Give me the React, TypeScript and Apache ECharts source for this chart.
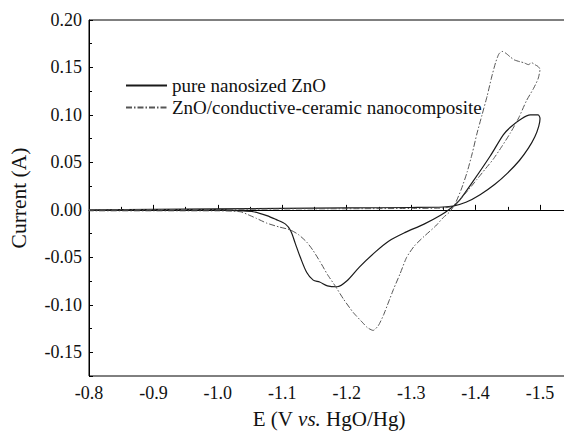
import React, { useEffect, useRef } from "react";
import * as echarts from "echarts";

// Pure nanosized ZnO (scan order)
const pureE = [
  -0.8, -0.9, -1.0, -1.1, -1.2, -1.3, -1.35, -1.365,
  -1.385, -1.407, -1.43, -1.45, -1.468, -1.482, -1.492, -1.498, -1.5, -1.497,
  -1.485, -1.469, -1.454, -1.443, -1.423, -1.396, -1.375, -1.362, -1.345, -1.32, -1.29,
  -1.265, -1.245, -1.22, -1.2, -1.185, -1.17, -1.158, -1.148, -1.138, -1.128, -1.12,
  -1.113, -1.105, -1.09, -1.076, -1.055, -1.035, -1.0, -0.9, -0.8,
];
const pureI = [
  0.0, 0.0005, 0.001, 0.0015, 0.002, 0.0025, 0.003, 0.004,
  0.008, 0.016, 0.027, 0.039, 0.052, 0.065, 0.077, 0.088, 0.096, 0.1,
  0.1, 0.095, 0.087, 0.079, 0.057, 0.03, 0.01, 0.002, -0.006, -0.015, -0.024,
  -0.033, -0.044, -0.06, -0.075, -0.081, -0.08, -0.076, -0.074, -0.066, -0.05, -0.035,
  -0.022, -0.015, -0.01, -0.006, -0.002, -0.001, 0.0, 0.0, 0.0,
];

// ZnO/conductive-ceramic nanocomposite (scan order)
const compE = [
  -0.8, -0.9, -1.0, -1.1, -1.2, -1.3, -1.35, -1.365,
  -1.376, -1.39, -1.402, -1.415, -1.427, -1.44, -1.454, -1.467, -1.479, -1.49, -1.497, -1.5,
  -1.497, -1.492, -1.487, -1.482, -1.475, -1.469, -1.46, -1.454, -1.447, -1.441, -1.436,
  -1.431, -1.425, -1.418, -1.41, -1.402, -1.395, -1.387, -1.378, -1.368, -1.36, -1.35,
  -1.338, -1.32, -1.305, -1.293, -1.283, -1.273, -1.265, -1.257, -1.249, -1.241, -1.232,
  -1.225, -1.21, -1.195, -1.182, -1.17, -1.159, -1.148, -1.138, -1.125, -1.112, -1.095,
  -1.076, -1.06, -1.05, -1.035, -1.0, -0.9, -0.8,
];
const compI = [
  0.0, 0.0003, 0.0005, 0.001, 0.0012, 0.0015, 0.002, 0.004,
  0.011, 0.022, 0.032, 0.043, 0.053, 0.066, 0.081, 0.097, 0.115, 0.128, 0.138, 0.148,
  0.151, 0.153, 0.155, 0.153, 0.155, 0.156, 0.158, 0.161, 0.165, 0.167, 0.164,
  0.155, 0.14, 0.12, 0.1, 0.08, 0.06, 0.04, 0.022, 0.006, -0.002, -0.008,
  -0.017, -0.028, -0.038, -0.05, -0.067, -0.083, -0.097, -0.111, -0.122, -0.127, -0.124,
  -0.119, -0.108, -0.094, -0.08, -0.068, -0.055, -0.043, -0.034, -0.026, -0.021, -0.018,
  -0.014, -0.009, -0.006, -0.002, -0.001, -0.001, -0.001,
];

const seriesNames = ["pure nanosized ZnO", "ZnO/conductive-ceramic nanocomposite"];

const FONT = "'Liberation Serif', 'Times New Roman', serif";

function pairs(es: number[], is: number[]) {
  // x axis shows potential decreasing to the right: plot |E| and label with minus sign
  return es.map((e, k) => [-e, is[k]]);
}

export default function App() {
  const ref = useRef<HTMLDivElement>(null);
  useEffect(() => {
    if (!ref.current) return;
    const chart = echarts.init(ref.current, null, { renderer: "svg" });
    chart.setOption({
      animation: false,
      backgroundColor: "#ffffff",
      textStyle: { fontFamily: FONT },
      grid: {
        left: 89,
        top: 20,
        width: 480,
        height: 356,
        containLabel: false,
        outerBoundsMode: "none",
        show: true,
        borderColor: "#000",
        borderWidth: 1,
        backgroundColor: "transparent",
      },
      legend: {
        orient: "vertical",
        left: 120,
        top: 71,
        itemWidth: 41,
        itemHeight: 14,
        itemGap: 3,
        itemStyle: { opacity: 0 },
        textStyle: { fontFamily: FONT, fontSize: 19, color: "#111", lineHeight: 19 },
        data: seriesNames,
      },
      xAxis: {
        type: "value",
        min: 0.8,
        max: 1.545,
        interval: 0.1,
        name: "E (V {i|vs.} HgO/Hg)",
        nameLocation: "middle",
        nameGap: 32,
        nameTextStyle: {
          fontFamily: FONT,
          fontSize: 21,
          lineHeight: 22,
          color: "#111",
          rich: { i: { fontFamily: FONT, fontSize: 21, lineHeight: 22, fontStyle: "italic", color: "#111" } },
        },
        axisLine: { show: true, lineStyle: { color: "#000", width: 1 } },
        axisTick: { show: true, inside: true, length: 5, lineStyle: { color: "#000" } },
        minorTick: { show: true, splitNumber: 2, length: 3, lineStyle: { color: "#000" } },
        splitLine: { show: false },
        axisLabel: {
          margin: 8,
          fontFamily: FONT,
          fontSize: 18,
          color: "#111",
          formatter: (v: number) =>
            Math.abs(v * 10 - Math.round(v * 10)) < 1e-6 ? "-" + v.toFixed(1) : "",
        },
      },
      yAxis: {
        type: "value",
        min: -0.175,
        max: 0.2,
        splitNumber: 7,
        name: "Current (A)",
        nameLocation: "middle",
        nameGap: 59,
        nameTextStyle: { fontFamily: FONT, fontSize: 21.5, color: "#111" },
        axisLine: { show: true, lineStyle: { color: "#000", width: 1 } },
        axisTick: { show: true, inside: true, length: 4, lineStyle: { color: "#000" } },
        minorTick: { show: true, splitNumber: 2, length: 3, lineStyle: { color: "#000" } },
        splitLine: { show: false },
        axisLabel: {
          margin: 7,
          fontFamily: FONT,
          fontSize: 18,
          color: "#111",
          formatter: (v: number) =>
            Math.abs(v * 20 - Math.round(v * 20)) < 1e-6 ? v.toFixed(2) : "",
        },
      },
      series: [
        {
          name: seriesNames[0],
          type: "line",
          data: pairs(pureE, pureI),
          symbol: "none",
          smooth: 0.3,
          lineStyle: { color: "#1a1a1a", width: 1.2, type: "solid" },
          itemStyle: { color: "#1a1a1a", opacity: 0 },
        },
        {
          name: seriesNames[1],
          type: "line",
          data: pairs(compE, compI),
          symbol: "none",
          smooth: 0.2,
          lineStyle: { color: "#555", width: 1, type: [6, 2, 1.5, 2] },
          itemStyle: { color: "#555", opacity: 0 },
        },
      ],
    });
    return () => chart.dispose();
  }, []);
  return (
    <div
      style={{
        position: "fixed",
        left: 0,
        top: 0,
        width: 564,
        height: 433,
        overflow: "hidden",
        background: "#fff",
      }}
    >
      <div ref={ref} style={{ width: 590, height: 433 }} />
    </div>
  );
}
